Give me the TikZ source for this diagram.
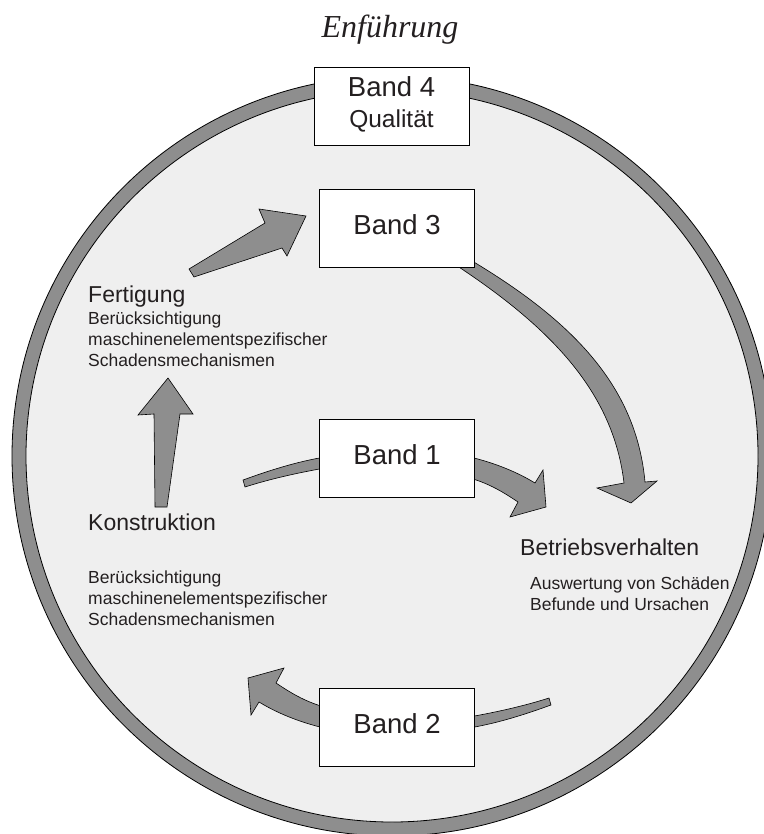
\documentclass[tikz,border=0pt]{standalone}
\usepackage{fontspec}
\setmainfont{Liberation Sans}
\newfontfamily\titlefont{Liberation Serif}
\definecolor{ringgrey}{RGB}{142,142,142}
\definecolor{innergrey}{RGB}{239,239,239}
\definecolor{txt}{RGB}{35,31,32}

\begin{document}
\begin{tikzpicture}[x=1pt,y=1pt,yscale=-1,xscale=1,
  band/.style={draw=black, fill=white, line width=0.8pt, inner sep=0pt, minimum width=155pt,
    text height=45pt, text depth=33pt, font=\fontsize{27.5}{33}\selectfont, text=txt},
  fat/.style={fill=ringgrey, draw=black, line width=0.6pt, line join=miter},
  head/.style={font=\fontsize{23}{27}\selectfont, text=txt, inner sep=0pt},
  small/.style={font=\fontsize{17.5}{21}\selectfont, text=txt, inner sep=0pt, align=left}]
\useasboundingbox (0,0) rectangle (763,834);

%Shape: Ring
\filldraw[fill=ringgrey, draw=black, line width=0.8pt] (392,456) circle (380pt);
\filldraw[fill=innergrey, draw=black, line width=0.8pt] (392,456) circle (366pt);

%Fat Arrow: Fertigung to Band 3
\draw[fat] (189,269) -- (265,223) -- (259,209) -- (306,216) -- (287,256) -- (282,248) -- (194,277) -- cycle;
%Fat Arrow: Konstruktion to Fertigung
\draw[fat] (155,507) -- (154,414) -- (138,415) -- (168,378) -- (193,414) -- (180,414) -- (167,507) -- cycle;
%Fat Arrow: Band 3 to Betriebsverhalten
\draw[fat] (445,258) .. controls (548,324) and (613,390) .. (624,483) -- (597,488) -- (631,503) -- (657,481)
  -- (645,482) .. controls (636,384) and (570,318) .. (462,255) -- cycle;
%Fat Arrow: Band 1
\draw[fat] (243,480) .. controls (268,471) and (295,462) .. (325,457) -- (325,468) .. controls (297,473) and (270,479) .. (245,487) -- cycle;
\draw[fat] (470,457) .. controls (495,463) and (517,472) .. (535,483) -- (543,470) -- (546,507) -- (510,517)
  -- (518,502) .. controls (503,492) and (490,484) .. (470,478) -- cycle;
%Fat Arrow: Band 2
\draw[fat] (551,705) .. controls (526,714) and (499,723) .. (469,728) -- (469,717) .. controls (497,712) and (524,706) .. (549,698) -- cycle;
\draw[fat] (324,728) .. controls (299,722) and (277,713) .. (259,702) -- (251,715) -- (248,678) -- (284,668)
  -- (276,683) .. controls (291,693) and (304,701) .. (324,707) -- cycle;

%Boxes
\node[band] (b4) at (391.5,106) {};
\node[band] (b3) at (397,228.5) {Band 3};
\node[band] (b1) at (397,458) {Band 1};
\node[band] (b2) at (397,727) {Band 2};

% Text Node
\node[anchor=base, inner sep=0pt, text=txt, font=\fontsize{27.5}{33}\selectfont] (b4name) at (391.5,97) {Band 4};
\node[anchor=base, inner sep=0pt, text=txt, font=\fontsize{24.5}{29}\selectfont] (b4sub) at (391.5,128) {Qualität};
% Text Node
\node[text=txt, font=\titlefont\itshape\fontsize{32}{36}\selectfont] (title) at (390,30) {Enführung};
% Text Node
\node[head, anchor=base west] (fert) at (88,302) {Fertigung};
\node[small, anchor=base west] (fertx) at (88,366) {Berücksichtigung\\maschinenelementspezifischer\\Schadensmechanismen};
% Text Node
\node[head, anchor=base west] (konst) at (88,530) {Konstruktion};
\node[small, anchor=base west] (konstx) at (88,625) {Berücksichtigung\\maschinenelementspezifischer\\Schadensmechanismen};
% Text Node
\node[head, anchor=base west] (betr) at (520,555) {Betriebsverhalten};
\node[small, anchor=base west] (betrx) at (530,610) {Auswertung von Schäden\\Befunde und Ursachen};

\end{tikzpicture}
\end{document}
